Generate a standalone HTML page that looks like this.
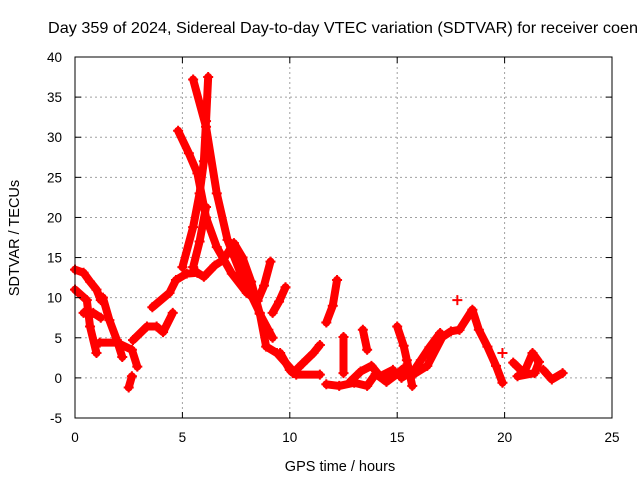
<!DOCTYPE html>
<html><head><meta charset="utf-8"><style>
body{margin:0;background:#fff;}
svg{display:block;font-family:"Liberation Sans",sans-serif;}
</style></head><body>
<svg id="chart" width="640" height="480">
<text x="48" y="33" font-size="16" textLength="590" lengthAdjust="spacingAndGlyphs" fill="#000">Day 359 of 2024, Sidereal Day-to-day VTEC variation (SDTVAR) for receiver coen</text>
<text x="340" y="471" font-size="14.5" text-anchor="middle">GPS time / hours</text>
<text transform="translate(19,238) rotate(-90)" font-size="14.5" text-anchor="middle">SDTVAR / TECUs</text>
<g id="grid"></g><g id="marks"></g><g id="axes"></g>
</svg>
<script>
const xTicks=[0,5,10,15,20,25];
const yTicks=[-5,0,5,10,15,20,25,30,35,40];
const tracks=[
[[4.8,30.8],[5.3,28],[5.7,25.5],[6.1,20],[6.6,16.3],[7.3,13],[8.0,10.6],[8.5,9.6],[8.8,11.5],[9.1,14.5]],
[[5.5,37.2],[6.1,31.3],[6.6,23],[7.1,17.2],[7.7,13.1],[8.6,8.1],[8.9,3.9],[9.4,3.1],[10.1,1.0]],
[[6.2,37.5],[6.1,32],[6.0,27],[5.8,23],[5.5,18.8],[5.0,13.8]],
[[6.1,21.3],[5.8,17],[5.5,13.8]],
[[5.7,13.1],[6.0,12.6],[6.5,14],[6.9,14.7],[7.4,16.8],[7.8,15],[8.2,12],[8.6,8],[9.0,6],[9.2,5]],
[[9.2,8.1],[9.5,9.5],[9.8,11.3]],
[[0.0,13.5],[0.4,13.1],[0.7,12],[1.0,11],[1.2,9.7]],
[[0.0,11],[0.55,9.7],[0.7,6.4],[1.0,3.1]],
[[0.4,8.1],[0.85,8.1],[1.2,7.5]],
[[1.3,10],[1.6,7.2],[1.95,4.7],[2.2,2.6]],
[[1.15,4.4],[1.95,4.4],[2.65,3.5],[2.9,1.4]],
[[2.5,-1.2],[2.65,0.2]],
[[2.7,4.7],[3.35,6.4],[3.8,6.4],[4.1,5.7],[4.55,8.1]],
[[3.6,8.8],[4.4,10.6],[4.7,12.2],[5.2,13],[5.7,13.1]],
[[9.55,3.1],[10.0,1.0],[10.15,0.6],[10.6,1.8],[11.1,3.1],[11.4,4.1]],
[[10.3,0.4],[11.4,0.4]],
[[11.7,6.9],[12.0,9],[12.2,12.2]],
[[12.5,5.1],[12.5,0.6]],
[[11.7,-0.8],[12.3,-1],[13.0,-0.6],[13.6,-1],[14.0,0.5],[14.5,-0.5],[15.0,0.5],[15.3,1.2]],
[[13.4,6],[13.6,3.5]],
[[12.8,-0.5],[13.3,0.8],[13.8,1.5],[14.2,0.2],[14.8,1.0]],
[[15.0,6.4],[15.3,4],[15.45,2.2],[15.7,-1]],
[[15.2,0],[15.8,1],[16.1,2.2],[16.5,3.8],[17.0,5.6]],
[[15.8,0.5],[16.4,1.5],[17.1,5.1],[17.5,5.8],[17.9,6]],
[[17.8,9.7]],
[[17.9,6],[18.5,8.5],[18.8,6],[19.2,3.9],[19.6,1.5],[19.9,-0.6]],
[[19.9,3.1]],
[[20.4,1.9],[20.9,0.6],[21.3,3.1],[21.6,2],[21.4,0.6],[20.6,0.2]],
[[21.8,1.0],[22.2,-0.2],[22.7,0.6]]
];
const L=75,R=612,T=57,B=418;
const sx=v=>L+(v-0)/(25-0)*(R-L);
const sy=v=>B-(v+5)/(40+5)*(B-T);
const NS="http://www.w3.org/2000/svg";
const grid=document.getElementById('grid'),axes=document.getElementById('axes'),marks=document.getElementById('marks');
function mk(tag,attrs,parent){const e=document.createElementNS(NS,tag);for(const k in attrs)e.setAttribute(k,attrs[k]);parent.appendChild(e);return e;}
xTicks.forEach(t=>{
  const x=sx(t);
  if(t>0&&t<25){const g=mk('line',{x1:x,x2:x,y1:T,y2:B,stroke:'#a0a0a0','stroke-dasharray':'2,3'},grid);
  
  }
  mk('line',{x1:x,x2:x,y1:B,y2:B-6,stroke:'#000'},axes);
  mk('line',{x1:x,x2:x,y1:T,y2:T+6,stroke:'#000'},axes);
  const tx=mk('text',{x:x,y:B+24,'font-size':'13.5','text-anchor':'middle'},axes);
  tx.textContent=t;
  
  
});
yTicks.forEach(t=>{
  const y=sy(t);
  if(t>-5&&t<40){const g=mk('line',{x1:L,x2:R,y1:y,y2:y,stroke:'#a0a0a0','stroke-dasharray':'2,3'},grid);
  
  }
  mk('line',{x1:L,x2:L+6,y1:y,y2:y,stroke:'#000'},axes);
  mk('line',{x1:R,x2:R-6,y1:y,y2:y,stroke:'#000'},axes);
  const tx=mk('text',{x:L-13,y:y+5,'font-size':'13.5','text-anchor':'end'},axes);
  tx.textContent=t;
  
  
});
const frame=mk('rect',{x:L,y:T,width:R-L,height:B-T,fill:'none',stroke:'#000','stroke-width':1},axes);


tracks.forEach((tr,i)=>{
  const g=mk('g',{},marks);
  
  
  if(tr.length>1){
    mk('polyline',{points:tr.map(p=>sx(p[0])+','+sy(p[1])).join(' '),fill:'none',stroke:'#ff0000','stroke-width':8,'stroke-linecap':'round','stroke-linejoin':'round'},g);
  }
  tr.forEach(p=>{
    const x=sx(p[0]),y=sy(p[1]);
    const m=mk('path',{d:`M${x-5},${y}H${x+5}M${x},${y-5}V${y+5}`,stroke:'#ff0000','stroke-width':2},g);
    
    
  });
});
</script>
</body></html>
